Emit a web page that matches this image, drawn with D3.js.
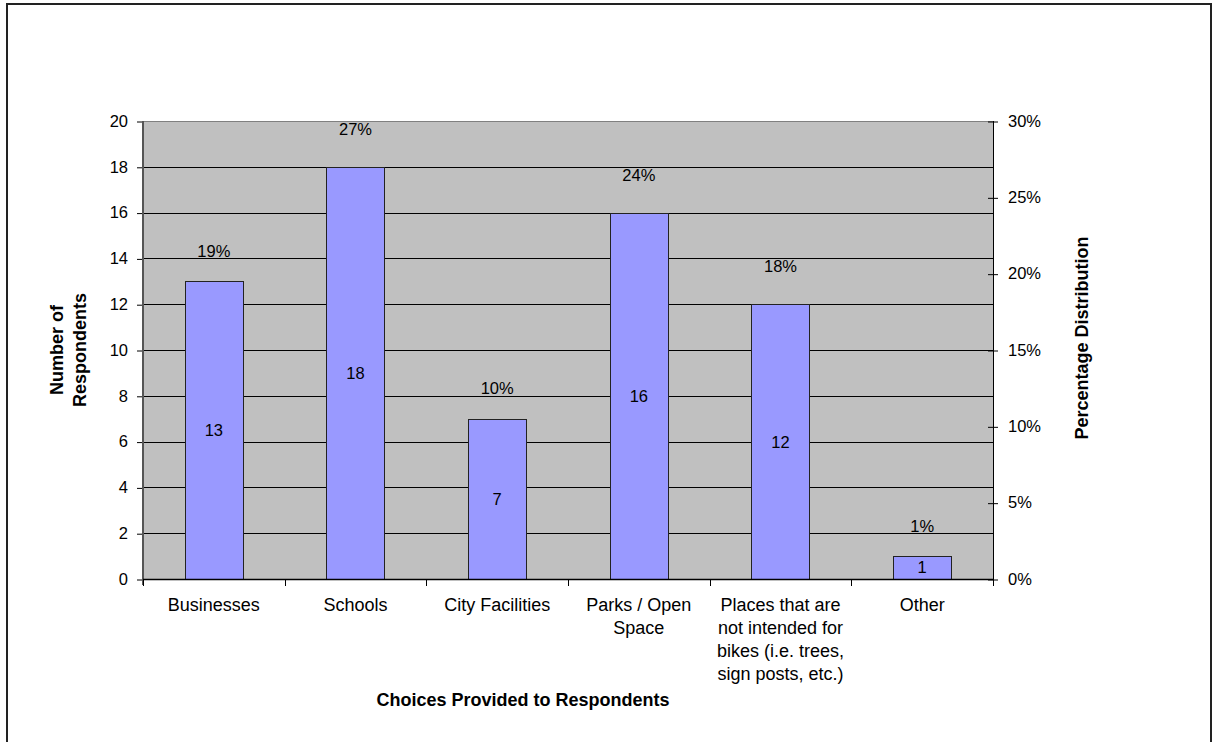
<!DOCTYPE html>
<html>
<head>
<meta charset="utf-8">
<script src="https://cdn.jsdelivr.net/npm/d3@7/dist/d3.min.js"></script>
<style>
  html, body { margin: 0; padding: 0; background: #ffffff; }
  svg { display: block; font-family: "Liberation Sans", Arial, sans-serif; }
</style>
</head>
<body>
<svg id="chart" width="1212" height="742"></svg>
<script>
// Survey responses: where respondents reported bikes being parked
const categories = [
  ["Businesses"],
  ["Schools"],
  ["City Facilities"],
  ["Parks / Open", "Space"],
  ["Places that are", "not intended for", "bikes (i.e. trees,", "sign posts, etc.)"],
  ["Other"]
];
const respondents = [13, 18, 7, 16, 12, 1];
const percentValues = [19, 27, 10, 24, 18, 1];
const percentLabels = ["19%", "27%", "10%", "24%", "18%", "1%"];
const countTicks = [0, 2, 4, 6, 8, 10, 12, 14, 16, 18, 20];
const percentTicks = [0, 5, 10, 15, 20, 25, 30];

const svg = d3.select("#chart");

// frame around the whole chart
svg.append("rect")
  .attr("x", 7).attr("y", 4)
  .attr("width", 1204).attr("height", 780)
  .attr("fill", "#ffffff")
  .attr("stroke", "#222")
  .attr("stroke-width", 2);

const plot = { left: 143, right: 993, top: 121, bottom: 579 };

const x = d3.scaleBand()
  .domain(d3.range(categories.length))
  .range([plot.left, plot.right])
  .padding(0);

const y = d3.scaleLinear().domain([0, 20]).range([plot.bottom, plot.top]);
const yPct = d3.scaleLinear().domain([0, 30]).range([plot.bottom, plot.top]);

// plot background
svg.append("rect")
  .attr("x", plot.left).attr("y", plot.top)
  .attr("width", plot.right - plot.left)
  .attr("height", plot.bottom - plot.top)
  .attr("fill", "#c0c0c0");

// horizontal gridlines
svg.append("g")
  .selectAll("line")
  .data(countTicks.filter(d => d > 0 && d < 20))
  .join("line")
  .attr("x1", plot.left).attr("x2", plot.right)
  .attr("y1", d => Math.round(y(d)) + 0.5)
  .attr("y2", d => Math.round(y(d)) + 0.5)
  .attr("stroke", "#000")
  .attr("stroke-width", 1);

// top edge of the plot area
svg.append("line")
  .attr("x1", plot.left).attr("x2", plot.right)
  .attr("y1", plot.top + 0.5).attr("y2", plot.top + 0.5)
  .attr("stroke", "#808080");

// bars
const barW = x.bandwidth() * 0.41;
svg.append("g")
  .selectAll("rect")
  .data(respondents)
  .join("rect")
  .attr("x", (d, i) => Math.round(x(i) + (x.bandwidth() - barW) / 2) + 0.5)
  .attr("y", d => Math.round(y(d)) + 0.5)
  .attr("width", Math.round(barW))
  .attr("height", d => y(0) - Math.round(y(d)))
  .attr("fill", "#9999ff")
  .attr("stroke", "#222")
  .attr("stroke-width", 1);

// count labels centred in each bar
svg.append("g")
  .selectAll("text")
  .data(respondents)
  .join("text")
  .attr("x", (d, i) => x(i) + x.bandwidth() / 2)
  .attr("y", d => (y(d) + y(0)) / 2)
  .attr("dy", "0.36em")
  .attr("text-anchor", "middle")
  .attr("font-size", 16.5)
  .attr("fill", "#000")
  .text(d => d);

// percentage labels above each bar
svg.append("g")
  .selectAll("text")
  .data(percentValues)
  .join("text")
  .attr("x", (d, i) => x(i) + x.bandwidth() / 2)
  .attr("y", d => yPct(d) - 38)
  .attr("dy", "0.36em")
  .attr("text-anchor", "middle")
  .attr("font-size", 16.5)
  .attr("fill", "#000")
  .text((d, i) => percentLabels[i]);

// left axis
const leftAxis = svg.append("g")
  .attr("transform", `translate(${plot.left},0)`)
  .call(d3.axisLeft(y).tickValues(countTicks).tickSize(6).tickPadding(9).tickFormat(d3.format("d")));
leftAxis.select(".domain").remove();
leftAxis.selectAll(".tick line").attr("stroke", "#000").attr("y1", 0.5).attr("y2", 0.5);
leftAxis.selectAll(".tick text").attr("font-size", 16.5).attr("font-family", "Liberation Sans, Arial, sans-serif").attr("fill", "#000");
svg.append("line")
  .attr("x1", plot.left).attr("x2", plot.left)
  .attr("y1", plot.top).attr("y2", plot.bottom + 6)
  .attr("stroke", "#555").attr("stroke-width", 2);

// right axis
const rightAxis = svg.append("g")
  .attr("transform", `translate(${plot.right},0)`)
  .call(d3.axisRight(yPct).tickValues(percentTicks).tickSize(5).tickPadding(10).tickFormat(d => d + "%"));
rightAxis.select(".domain").remove();
rightAxis.selectAll(".tick line").attr("stroke", "#000").attr("x1", -5).attr("y1", 0.5).attr("y2", 0.5);
rightAxis.selectAll(".tick text").attr("font-size", 16.5).attr("font-family", "Liberation Sans, Arial, sans-serif").attr("fill", "#000");
svg.append("line")
  .attr("x1", plot.right + 0.5).attr("x2", plot.right + 0.5)
  .attr("y1", plot.top).attr("y2", plot.bottom)
  .attr("stroke", "#000").attr("stroke-width", 1);

// bottom axis line and category ticks
svg.append("line")
  .attr("x1", plot.left).attr("x2", plot.right)
  .attr("y1", plot.bottom + 0.5).attr("y2", plot.bottom + 0.5)
  .attr("stroke", "#000").attr("stroke-width", 1.5);
svg.append("g")
  .selectAll("line")
  .data(d3.range(categories.length + 1))
  .join("line")
  .attr("x1", i => Math.round(i < categories.length ? x(i) : plot.right) + 0.5)
  .attr("x2", i => Math.round(i < categories.length ? x(i) : plot.right) + 0.5)
  .attr("y1", plot.bottom).attr("y2", plot.bottom + 7)
  .attr("stroke", "#000");

// category labels, wrapped over several lines
const catG = svg.append("g");
categories.forEach((lines, i) => {
  const t = catG.append("text")
    .attr("text-anchor", "middle")
    .attr("font-size", 18)
    .attr("fill", "#000");
  lines.forEach((ln, k) => {
    t.append("tspan")
      .attr("x", x(i) + x.bandwidth() / 2)
      .attr("y", 605 + k * 23)
      .attr("dy", "0.36em")
      .text(ln);
  });
});

// axis titles
svg.append("text")
  .attr("x", 523)
  .attr("y", 700)
  .attr("dy", "0.36em")
  .attr("text-anchor", "middle")
  .attr("font-size", 18)
  .attr("font-weight", "bold")
  .text("Choices Provided to Respondents");

const leftTitle = svg.append("text")
  .attr("transform", "translate(68,350) rotate(-90)")
  .attr("text-anchor", "middle")
  .attr("font-size", 18)
  .attr("font-weight", "bold");
leftTitle.append("tspan").attr("x", 0).attr("y", -11.5).attr("dy", "0.36em").text("Number of");
leftTitle.append("tspan").attr("x", 0).attr("y", 11.5).attr("dy", "0.36em").text("Respondents");

svg.append("text")
  .attr("transform", "translate(1082,338) rotate(-90)")
  .attr("dy", "0.36em")
  .attr("text-anchor", "middle")
  .attr("font-size", 18)
  .attr("font-weight", "bold")
  .text("Percentage Distribution");
</script>
</body>
</html>
